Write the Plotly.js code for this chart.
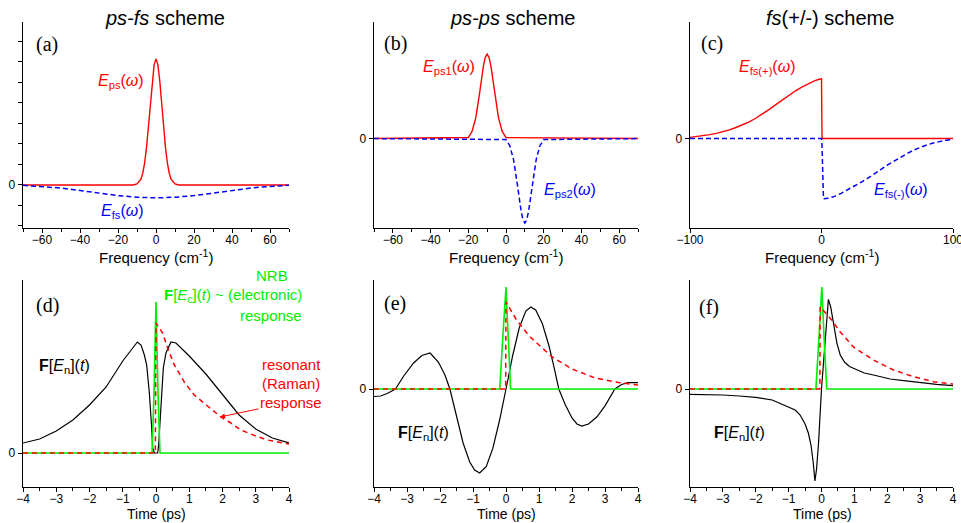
<!DOCTYPE html>
<html>
<head>
<meta charset="utf-8">
<script src="https://cdn.plot.ly/plotly-3.0.1.min.js"></script>
<style>html,body{margin:0;padding:0;background:#fff;}#chart{width:961px;height:523px;}</style>
</head>
<body>
<div id="chart"></div>
<script>
// ---------- (a) ps-fs scheme : spectra ----------
const freqPsA = [-70, -12, -10, -8, -7, -6, -5, -4, -3, -2, -1, 0, 1, 2, 3, 4, 5, 6, 7, 8, 10, 12, 70];
const ePsA    = [0, 0, 0.05, 0.27, 0.56, 1.06, 1.82, 2.82, 3.96, 5.06, 5.86, 6.15, 5.86, 5.06, 3.96, 2.82, 1.82, 1.06, 0.56, 0.27, 0.05, 0, 0];
const freqFsA = [-70, -60, -50, -40, -30, -20, -10, 0, 10, 20, 30, 40, 50, 60, 70];
const eFsA    = [-0.02, -0.07, -0.15, -0.27, -0.4, -0.52, -0.6, -0.63, -0.6, -0.52, -0.4, -0.27, -0.15, -0.07, -0.02];

// ---------- (b) ps-ps scheme : spectra ----------
const freqPs1B = [-70, -20, -18, -16, -14, -13, -12, -11, -10, -9, -8, -7, -6, -4, -2, 0, 70];
const ePs1B    = [0, 1, 7.1, 20.9, 45.3, 59.4, 72, 80.8, 84, 80.8, 72, 59.4, 45.3, 20.9, 7.1, 1, 0];
const freqPs2B = [-70, 0, 2, 4, 6, 7, 8, 9, 10, 11, 12, 13, 14, 16, 18, 20, 70];
const ePs2B    = [0, -1, -7.1, -20.9, -45.3, -59.4, -72, -80.8, -84, -80.8, -72, -59.4, -45.3, -20.9, -7.1, -1, 0];

// ---------- (c) fs(+/-) scheme : spectra ----------
const freqPlusC = [-100, -95, -90, -85, -80, -75, -70, -65, -60, -55, -50, -45, -40, -35, -30, -25, -20, -15, -10, -5, -1, 0, 0.4, 100];
const eFsPlusC  = [1.2, 1.9, 2.8, 3.9, 5.2, 6.8, 8.7, 11, 13.6, 16.6, 20.2, 24.3, 28.8, 33.5, 38.3, 42.9, 47.3, 51.2, 54.8, 57.6, 59.3, 59.5, 0, 0];
const freqMinusC = [-100, 0, 0.3, 0.8, 1.5, 5, 10, 15, 20, 25, 30, 35, 40, 45, 50, 55, 60, 65, 70, 75, 80, 85, 90, 95, 100];
const eFsMinusC  = [0, 0, -3, -25, -60, -59.5, -57.5, -54.5, -51, -47.5, -43.5, -39.5, -35.5, -31, -26.5, -22.5, -18.5, -15, -11.5, -8.8, -6.4, -4.4, -2.8, -1.6, -0.7];

// ---------- (d) ps-fs : time domain ----------
const timeND = [-4, -3.5, -3, -2.5, -2, -1.5, -1, -0.75, -0.56, -0.45, -0.35, -0.28, -0.2, -0.13, -0.1, -0.05, 0.05, 0.08, 0.15, 0.22, 0.3, 0.45, 0.6, 0.8, 1, 1.5, 2, 2.5, 3, 3.5, 4];
const fEnD   = [10, 14, 22, 33, 48, 66, 92, 103, 111, 108, 98, 88, 60, 25, 5, 0, 0, 8, 45, 85, 100, 111, 110, 104, 97, 79, 58, 38, 24, 15, 10];
const timeCD = [-4, -0.12, -0.06, 0, 0.06, 0.12, 4];
const fEcD   = [0, 0, 60, 151, 60, 0, 0];
const timeRD = [-4, -0.02, 0, 0.2, 0.35, 0.55, 0.85, 1.15, 1.55, 1.95, 2.25, 2.55, 3, 3.35, 4];
const resD   = [0, 0, 130, 120, 105, 88, 71, 58, 47, 36, 30, 23, 17, 13, 9];

// ---------- (e) ps-ps : time domain ----------
const timeNE = [-4, -3.8, -3.6, -3.35, -3.1, -2.8, -2.55, -2.3, -2.05, -1.85, -1.7, -1.5, -1.3, -1.1, -0.95, -0.8, -0.6, -0.4, -0.2, 0, 0.2, 0.4, 0.6, 0.75, 0.9, 1.1, 1.3, 1.45, 1.6, 1.8, 2.0, 2.15, 2.3, 2.5, 2.75, 3.0, 3.3, 3.5, 3.7, 4];
const fEnE   = [-7.5, -7, -4.5, 0, 13, 26, 33.5, 36, 27, 14, 0, -28, -54, -73, -81, -84, -77.6, -59.4, -32, 0, 33, 61, 78, 82, 79, 65.5, 43.5, 22.6, 0, -16, -29, -35, -37, -35, -28, -16.8, 0, 4.5, 6.3, 6.3];
const timeCE = [-4, -0.19, -0.1, 0, 0.07, 0.14, 4];
const fEcE   = [0, 0, 50, 102, 50, 0, 0];
const timeRE = [-4, -0.01, 0, 0.3, 0.7, 1.0, 1.4, 2.0, 2.7, 3.4, 4];
const resE   = [0, 0, 87, 70, 53, 44, 32, 20, 11, 6.5, 4];

// ---------- (f) fs(+/-) : time domain ----------
const timeNF = [-4, -3.5, -3, -2.5, -2, -1.5, -1, -0.8, -0.65, -0.5, -0.4, -0.32, -0.25, -0.2, -0.15, -0.09, 0, 0.11, 0.21, 0.28, 0.37, 0.47, 0.57, 0.7, 0.85, 1.08, 1.3, 1.58, 2.09, 2.5, 3.1, 3.5, 4];
const fEnF   = [-5.3, -5.6, -6, -7, -8.3, -11, -17.7, -21, -26, -35, -44, -56, -74, -92, -80, -54, 0, 52, 89.7, 82, 66, 45.7, 34, 27, 22.5, 19, 16, 14, 10, 8.3, 5.7, 4.6, 3.3];
const timeCF = [-4, -0.17, -0.08, 0.01, 0.08, 0.16, 4];
const fEcF   = [0, 0, 50, 102, 50, 0, 0];
const timeRF = [-4, -0.05, -0.04, 0.31, 0.57, 0.97, 1.58, 2.19, 2.8, 3.41, 4];
const resF   = [0, 0, 82, 69, 57, 42, 29, 19, 12.3, 7.3, 5];

// tick positions of panel (a) y axis (unlabelled minor ticks)
const ticksA = [-2, -1, 1, 2, 3, 4, 5, 6, 7];

// ---------- styling ----------
const SANS = 'Arial, "Liberation Sans", sans-serif';
const SERIF = '"Times New Roman", "Liberation Serif", serif';
const RED = '#ff0000', BLUE = '#0000ff', GREEN = '#00ee00', BLACK = '#000000';
const px = x => x / 961;
const py = y => 1 - y / 523;

function line(x, y, ax, color, dash, width) {
  return {x: x, y: y, xaxis: 'x' + ax, yaxis: 'y' + ax, type: 'scatter', mode: 'lines',
          line: {color: color, width: width || 1.4, dash: dash || 'solid'}, hoverinfo: 'skip', showlegend: false};
}
const DASH_B = '5px,3px', DASH_R = '5px,4px';

const data = [
  line(freqPsA, ePsA, '', RED),
  line(freqFsA, eFsA, '', BLUE, DASH_B, 1.5),
  line(freqPs1B, ePs1B, '2', RED),
  line(freqPs2B, ePs2B, '2', BLUE, DASH_B, 1.5),
  line(freqPlusC, eFsPlusC, '3', RED),
  line(freqMinusC, eFsMinusC, '3', BLUE, DASH_B, 1.5),
  line(timeND, fEnD, '4', BLACK, null, 1.2),
  line(timeCD, fEcD, '4', GREEN, null, 1.6),
  line(timeRD, resD, '4', RED, DASH_R, 1.5),
  line(timeNE, fEnE, '5', BLACK, null, 1.2),
  line(timeCE, fEcE, '5', GREEN, null, 1.6),
  line(timeRE, resE, '5', RED, DASH_R, 1.5),
  line(timeNF, fEnF, '6', BLACK, null, 1.2),
  line(timeCF, fEcF, '6', GREEN, null, 1.6),
  line(timeRF, resF, '6', RED, DASH_R, 1.5)
];

const colX = [[px(23), px(289)], [px(374), px(638)], [px(690), px(953)]];
const rowY = [[py(228), py(22)], [py(487), py(280)]];

function xax(dom, range, dtick, minor, anchor) {
  const a = {domain: dom, range: range, anchor: anchor, showline: true, linecolor: '#000', linewidth: 1.3,
    ticks: 'outside', ticklen: 4, tickwidth: 1, tickcolor: '#000', dtick: dtick, tick0: 0,
    ticklabelstandoff: -4,
    showgrid: false, zeroline: false, automargin: false, ticklabeloverflow: 'allow',
    tickfont: {family: SANS, size: 12, color: '#000'}};
  if (minor) a.minor = {dtick: minor, ticks: 'outside', ticklen: 3, tickcolor: '#000', showgrid: false};
  return a;
}
function yax(dom, range, anchor, minorVals) {
  const a = {domain: dom, range: range, anchor: anchor, showline: true, linecolor: '#000', linewidth: 1.3,
    ticks: 'outside', ticklen: 4, tickwidth: 1, tickcolor: '#000',
    tickmode: 'array', tickvals: [0], ticktext: ['0'],
    showgrid: false, zeroline: false, automargin: false,
    tickfont: {family: SANS, size: 12, color: '#000'}};
  if (minorVals) a.minor = {tickmode: 'array', tickvals: minorVals, ticks: 'outside', ticklen: 4, tickcolor: '#000', showgrid: false};
  return a;
}

function ann(text, x, y, color, size, family, xanchor) {
  return {text: text, xref: 'paper', yref: 'paper', x: px(x), y: py(y), showarrow: false,
    xanchor: xanchor || 'left', yanchor: 'middle',
    font: {family: family || SANS, size: size || 16, color: color || '#000'}};
}

const FREQ = 'Frequency (cm<sup>-1</sup>)', TIME = 'Time (ps)';

const annotations = [
  ann('<i>ps-fs</i> scheme', 165, 18, '#000', 20, SANS, 'center'),
  ann('<i>ps-ps</i> scheme', 513, 18, '#000', 20, SANS, 'center'),
  ann('<i>fs</i>(+/-) scheme', 830, 18, '#000', 20, SANS, 'center'),
  ann(FREQ, 156, 256, '#000', 15, SANS, 'center'),
  ann(FREQ, 506, 256, '#000', 15, SANS, 'center'),
  ann(FREQ, 822, 256, '#000', 15, SANS, 'center'),
  ann(TIME, 156, 514, '#000', 14, SANS, 'center'),
  ann(TIME, 506, 514, '#000', 14, SANS, 'center'),
  ann(TIME, 822, 514, '#000', 14, SANS, 'center'),
  ann('(a)', 34, 44, '#000', 20, SERIF),
  ann('(b)', 382, 43, '#000', 20, SERIF),
  ann('(c)', 699, 43, '#000', 20, SERIF),
  ann('(d)', 34, 305, '#000', 20, SERIF),
  ann('(e)', 382, 303, '#000', 20, SERIF),
  ann('(f)', 697, 307, '#000', 20, SERIF),
  ann('<i>E</i><sub>ps</sub>(<i>ω</i>)', 96, 82, RED, 16),
  ann('<i>E</i><sub>fs</sub>(<i>ω</i>)', 99, 212, BLUE, 16),
  ann('<i>E</i><sub>ps1</sub>(<i>ω</i>)', 421, 68, RED, 16),
  ann('<i>E</i><sub>ps2</sub>(<i>ω</i>)', 542, 190, BLUE, 16),
  ann('<i>E</i><sub>fs(+)</sub>(<i>ω</i>)', 737, 68, RED, 16),
  ann('<i>E</i><sub>fs(-)</sub>(<i>ω</i>)', 872, 190, BLUE, 16),
  ann('NRB', 272, 275, GREEN, 15, SANS, 'center'),
  ann('<b>F</b>[<i>E</i><sub>c</sub>](<i>t</i>) ~ (electronic)', 162, 295, GREEN, 15),
  ann('response', 271, 315, GREEN, 15, SANS, 'center'),
  ann('<b>F</b>[<i>E</i><sub>n</sub>](<i>t</i>)', 37, 366, '#000', 16),
  ann('resonant', 291, 364, RED, 15, SANS, 'center'),
  ann('(Raman)', 291, 383, RED, 15, SANS, 'center'),
  {text: 'response', xref: 'paper', yref: 'paper', x: px(220), y: py(417), ax: 71, ay: -15,
   showarrow: true, arrowhead: 2, arrowsize: 1, arrowwidth: 1, arrowcolor: RED, standoff: 0,
   font: {family: SANS, size: 15, color: RED}},
  ann('<b>F</b>[<i>E</i><sub>n</sub>](<i>t</i>)', 396, 433, '#000', 16),
  ann('<b>F</b>[<i>E</i><sub>n</sub>](<i>t</i>)', 712, 433, '#000', 16)
];

const layout = {
  width: 961, height: 523, margin: {l: 0, r: 0, t: 0, b: 0},
  paper_bgcolor: '#fff', plot_bgcolor: 'rgba(0,0,0,0)', showlegend: false,
  xaxis:  xax(colX[0], [-70, 70], 20, 10, 'y'),
  yaxis:  yax(rowY[0], [-2.1, 7.95], 'x', ticksA),
  xaxis2: xax(colX[1], [-70, 70], 20, 10, 'y2'),
  yaxis2: yax(rowY[0], [-89, 116], 'x2'),
  xaxis3: xax(colX[2], [-100, 100], 100, null, 'y3'),
  yaxis3: yax(rowY[0], [-89, 116], 'x3'),
  xaxis4: xax(colX[0], [-4, 4], 1, 0.5, 'y4'),
  yaxis4: yax(rowY[1], [-34, 173], 'x4'),
  xaxis5: xax(colX[1], [-4, 4], 1, 0.5, 'y5'),
  yaxis5: yax(rowY[1], [-98, 109], 'x5'),
  xaxis6: xax(colX[2], [-4, 4], 1, 0.5, 'y6'),
  yaxis6: yax(rowY[1], [-98, 109], 'x6'),
  annotations: annotations
};

Plotly.newPlot('chart', data, layout, {staticPlot: true, displayModeBar: false});
</script>
</body>
</html>
